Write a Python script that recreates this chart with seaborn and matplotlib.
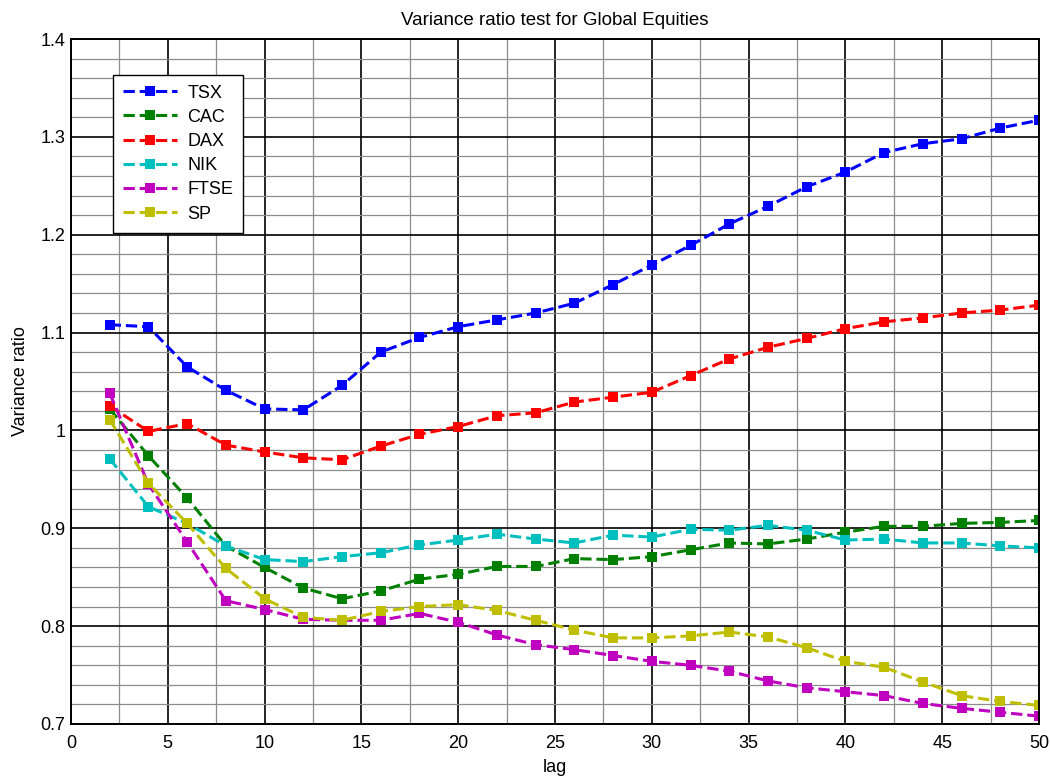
import numpy as np
import pandas as pd
import matplotlib
matplotlib.use("Agg")
import matplotlib.pyplot as plt
from matplotlib.ticker import MultipleLocator
import seaborn as sns

lags = list(range(2, 51, 2))

tsx = [1.108, 1.106, 1.065, 1.041, 1.022, 1.021, 1.046, 1.080, 1.095, 1.106,
       1.113, 1.120, 1.130, 1.149, 1.169, 1.189, 1.211, 1.229, 1.249, 1.264,
       1.284, 1.293, 1.298, 1.309, 1.317]
cac = [1.022, 0.974, 0.931, 0.882, 0.860, 0.839, 0.828, 0.836, 0.848, 0.853,
       0.861, 0.861, 0.869, 0.868, 0.871, 0.878, 0.885, 0.884, 0.889, 0.896,
       0.902, 0.902, 0.905, 0.906, 0.908]
dax = [1.025, 0.999, 1.007, 0.985, 0.978, 0.972, 0.970, 0.984, 0.996, 1.004,
       1.015, 1.018, 1.029, 1.034, 1.039, 1.056, 1.073, 1.085, 1.094, 1.104,
       1.111, 1.115, 1.120, 1.123, 1.128]
nik = [0.971, 0.922, 0.905, 0.882, 0.868, 0.866, 0.871, 0.875, 0.883, 0.888,
       0.894, 0.889, 0.885, 0.893, 0.891, 0.899, 0.898, 0.903, 0.898, 0.888,
       0.889, 0.885, 0.885, 0.882, 0.880]
ftse = [1.038, 0.945, 0.886, 0.826, 0.817, 0.807, 0.806, 0.806, 0.813, 0.804,
        0.791, 0.781, 0.776, 0.770, 0.764, 0.760, 0.754, 0.744, 0.737, 0.733,
        0.729, 0.721, 0.716, 0.712, 0.708]
sp = [1.011, 0.946, 0.905, 0.859, 0.828, 0.809, 0.806, 0.815, 0.820, 0.822,
      0.816, 0.806, 0.796, 0.788, 0.788, 0.790, 0.794, 0.789, 0.778, 0.764,
      0.758, 0.743, 0.729, 0.723, 0.719]

names = ["TSX", "CAC", "DAX", "NIK", "FTSE", "SP"]
series = [tsx, cac, dax, nik, ftse, sp]
colors = ["#0000ff", "#008000", "#ff0000", "#00bfbf", "#bf00bf", "#bfbf00"]

df = pd.concat(
    [pd.DataFrame({"lag": lags, "ratio": vals, "index": name})
     for name, vals in zip(names, series)],
    ignore_index=True,
)

sns.set_style("white")
plt.rcParams["font.family"] = ["Liberation Sans", "DejaVu Sans"]
plt.rcParams["text.color"] = "black"
plt.rcParams["axes.labelcolor"] = "black"

fig = plt.figure(figsize=(10.5, 7.78), dpi=100)
ax = fig.add_axes([71 / 1050, 1 - 724 / 778, 968 / 1050, 685 / 778])

for name, color in zip(names, colors):
    sns.lineplot(data=df[df["index"] == name], x="lag", y="ratio", ax=ax,
                 color=color, label=name, linestyle="--", linewidth=2.2,
                 marker="s", markersize=6.5, markeredgewidth=0)

ax.set_xlim(0, 50)
ax.set_ylim(0.7, 1.4)
ax.xaxis.set_major_locator(MultipleLocator(5))
ax.xaxis.set_minor_locator(MultipleLocator(2.5))
ax.yaxis.set_major_locator(MultipleLocator(0.1))
ax.yaxis.set_minor_locator(MultipleLocator(0.02))
ax.set_yticklabels([f"{v:g}" for v in ax.get_yticks()])

ax.set_axisbelow(True)
ax.grid(which="major", color="black", linewidth=1.2)
ax.grid(which="minor", color="#8c8c8c", linewidth=0.9)
for s in ax.spines.values():
    s.set_color("black")
    s.set_linewidth(1.4)
ax.tick_params(which="both", direction="in", length=3, labelsize=13, colors="black")
ax.tick_params(axis="y", pad=4)
ax.tick_params(axis="x", pad=8)
ax.tick_params(which="minor", length=0)

ax.set_title("Variance ratio test for Global Equities", fontsize=13.5, pad=10,
             color="black")
ax.set_xlabel("lag", fontsize=13, labelpad=5)
ax.set_ylabel("Variance ratio", fontsize=13, labelpad=8)

leg = ax.legend(loc="upper left", bbox_to_anchor=(0.043, 0.948), borderaxespad=0,
                fontsize=13, frameon=True, fancybox=False, framealpha=1,
                edgecolor="black", handlelength=3.0, labelspacing=0.4,
                borderpad=0.55, handletextpad=0.6)
leg.get_frame().set_linewidth(1.0)
for t in leg.get_texts():
    t.set_color("black")

fig.savefig("out.png", dpi=100)
